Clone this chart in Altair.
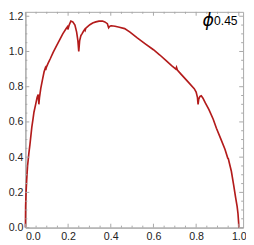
import altair as alt
import pandas as pd

xs = [0, 0.001, 0.003, 0.006, 0.01, 0.016, 0.021, 0.03, 0.036, 0.04, 0.048, 0.055, 0.060, 0.063,
      0.066, 0.072, 0.08, 0.0875, 0.093, 0.095, 0.098, 0.105, 0.117, 0.13, 0.145, 0.161, 0.175,
      0.191, 0.197, 0.199, 0.205, 0.213, 0.222, 0.232, 0.240, 0.246, 0.250, 0.254, 0.260, 0.265,
      0.272, 0.278, 0.280, 0.283, 0.29, 0.302, 0.315, 0.33, 0.345, 0.361, 0.372, 0.384, 0.390,
      0.393, 0.398, 0.403, 0.42, 0.44, 0.465, 0.49, 0.524, 0.56, 0.60, 0.63, 0.658, 0.685, 0.705,
      0.708, 0.712, 0.73, 0.76, 0.791, 0.800, 0.806, 0.809, 0.812, 0.818, 0.824, 0.832, 0.843,
      0.86, 0.88, 0.895, 0.915, 0.935, 0.948, 0.951, 0.955, 0.965, 0.976, 0.985, 0.992, 0.996,
      0.999, 1.0]
ys = [0, 0.12, 0.2, 0.27, 0.35, 0.42, 0.47, 0.57, 0.62, 0.655, 0.70, 0.74, 0.755, 0.70,
      0.74, 0.79, 0.84, 0.885, 0.905, 0.895, 0.91, 0.93, 0.96, 0.995, 1.03, 1.068, 1.10,
      1.13, 1.14, 1.125, 1.15, 1.173, 1.168, 1.15, 1.11, 1.06, 1.0, 1.06, 1.09, 1.10,
      1.115, 1.125, 1.12, 1.132, 1.14, 1.152, 1.162, 1.168, 1.172, 1.173, 1.168, 1.158, 1.135,
      1.14, 1.145, 1.146, 1.143, 1.138, 1.13, 1.11, 1.077, 1.045, 1.01, 0.98, 0.95, 0.92, 0.90,
      0.91, 0.895, 0.87, 0.83, 0.789, 0.77, 0.74, 0.70, 0.73, 0.745, 0.748, 0.735, 0.708,
      0.67, 0.615, 0.564, 0.505, 0.445, 0.395, 0.39, 0.37, 0.32, 0.24, 0.17, 0.12, 0.08,
      0.03, 0]

x_major = [0.0, 0.2, 0.4, 0.6, 0.8, 1.0]
y_major = [0.0, 0.2, 0.4, 0.6, 0.8, 1.0, 1.2]
x_minor = [0.05, 0.1, 0.15, 0.25, 0.3, 0.35, 0.45, 0.5, 0.55, 0.65, 0.7, 0.75, 0.85, 0.9, 0.95]
y_minor = [0.05, 0.1, 0.15, 0.25, 0.3, 0.35, 0.45, 0.5, 0.55, 0.65, 0.7, 0.75, 0.85, 0.9, 0.95,
           1.05, 1.1, 1.15]
label_main = "ϕ"
label_sub = "0.45"

W, H = 225, 223
AX = "#a6a6a6"
xscale = alt.Scale(domain=[0, 1.02], nice=False, zero=False)
yscale = alt.Scale(domain=[0, 1.225], nice=False, zero=False)
xaxis = alt.Axis(values=x_major, format=".1f", ticks=False, grid=False, title=None,
                 domainColor=AX, labelFontSize=11, labelColor="#222",
                 labelPadding=3, labelFont="Liberation Sans")
yaxis = alt.Axis(values=y_major, format=".1f", ticks=False, grid=False, title=None,
                 domainColor=AX, labelFontSize=11, labelColor="#222",
                 labelPadding=2.5, labelFont="Liberation Sans")

df = pd.DataFrame({"x": xs, "y": ys, "i": range(len(xs))})

line = alt.Chart(df).mark_line(color="#b31b1b", strokeWidth=1.7).encode(
    x=alt.X("x:Q", scale=xscale, axis=xaxis),
    y=alt.Y("y:Q", scale=yscale, axis=yaxis),
    order="i:Q",
)

def xticks(vals, length):
    d = pd.DataFrame({"t": vals})
    b = alt.Chart(d).mark_rule(color=AX, strokeWidth=1).encode(
        x=alt.X("t:Q", scale=xscale, axis=xaxis), y=alt.value(H), y2=alt.value(H - length))
    t = alt.Chart(d).mark_rule(color=AX, strokeWidth=1).encode(
        x=alt.X("t:Q", scale=xscale, axis=xaxis), y=alt.value(0), y2=alt.value(length))
    return [b, t]

def yticks(vals, length):
    d = pd.DataFrame({"t": vals})
    l = alt.Chart(d).mark_rule(color=AX, strokeWidth=1).encode(
        y=alt.Y("t:Q", scale=yscale, axis=yaxis), x=alt.value(0), x2=alt.value(length))
    r = alt.Chart(d).mark_rule(color=AX, strokeWidth=1).encode(
        y=alt.Y("t:Q", scale=yscale, axis=yaxis), x=alt.value(W), x2=alt.value(W - length))
    return [l, r]

lab_df = pd.DataFrame({"a": [label_main], "b": [label_sub]})
phi = alt.Chart(lab_df).mark_text(font="DejaVu Sans", fontStyle="italic", fontSize=18,
                                  align="right", baseline="alphabetic", color="#000").encode(
    text="a:N", x=alt.value(195), y=alt.value(15))
sub = alt.Chart(lab_df).mark_text(font="Liberation Sans", fontSize=12.5,
                                  align="left", baseline="alphabetic", color="#000").encode(
    text="b:N", x=alt.value(195), y=alt.value(14))

layers = xticks(x_major, 4) + xticks(x_minor, 2) + yticks(y_major, 4) + yticks(y_minor, 2)
chart = alt.layer(line, *layers, phi, sub).properties(
    width=W, height=H,
    autosize=alt.AutoSizeParams(type="none"),
    padding={"left": 18, "top": 0, "right": 3, "bottom": 14},
).configure_view(stroke=AX, strokeWidth=1)

chart.save("out.html", embed_options={"renderer": "svg", "actions": False})
